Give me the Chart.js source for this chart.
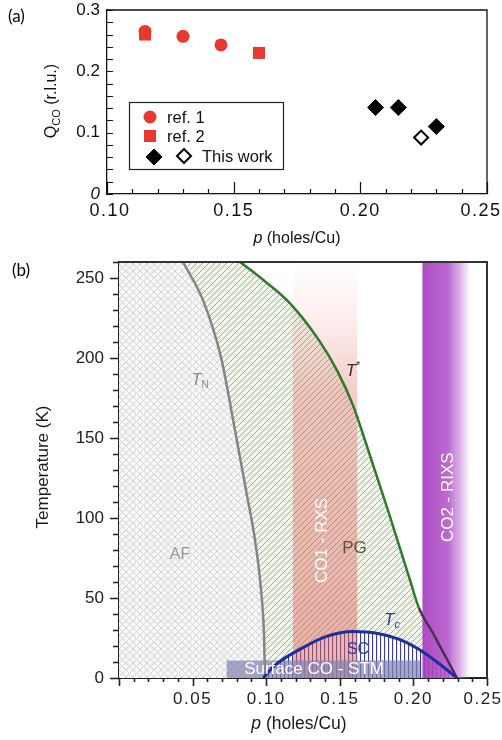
<!DOCTYPE html>
<html><head><meta charset="utf-8">
<script src="https://cdn.jsdelivr.net/npm/chart.js@4.4.1/dist/chart.umd.min.js"></script>
<style>
html,body{margin:0;padding:0;background:#fff;}
body{width:502px;height:740px;position:relative;overflow:hidden;}
canvas{position:absolute;left:0}
#ca{top:0}
#cb{top:250px}
.tag{position:absolute;font-family:Lato,'Open Sans',sans-serif;font-size:17px;color:#000;line-height:1}
</style></head><body>
<canvas id="ca" width="502" height="250"></canvas>
<canvas id="cb" width="502" height="490"></canvas>
<div class="tag" style="left:8px;top:7px">(a)</div>
<div class="tag" style="left:12px;top:261px">(b)</div>
<script>
// ---------- data: panel (a) ----------
const ref1P = [0.115, 0.130, 0.145];
const ref1Q = [0.265, 0.257, 0.243];
const ref2P = [0.115, 0.160];
const ref2Q = [0.260, 0.230];
const thisWorkP = [0.206, 0.215, 0.230];
const thisWorkQ = [0.141, 0.141, 0.110];
const thisWorkOpenP = [0.224];
const thisWorkOpenQ = [0.092];
const xTicksA = [0.10, 0.15, 0.20, 0.25];
const yTicksA = [0, 0.1, 0.2, 0.3];
const legendLabelsA = ['ref. 1', 'ref. 2', 'This work'];

// ---------- data: panel (b) ----------
const tnP = [0.0435, 0.0571, 0.0693, 0.0788, 0.0863, 0.0924, 0.0965, 0.0985, 0.0992];
const tnT = [260, 236, 200.4, 154.8, 117.4, 86.1, 54.9, 26.8, 0];
const tStarP = [0.0822, 0.0985, 0.1162, 0.1359, 0.1481, 0.1590, 0.1671, 0.1827, 0.1977, 0.2038, 0.2133, 0.2215, 0.2296];
const tStarT = [260, 248.4, 234.1, 211, 192.3, 170.4, 148.6, 104.9, 61.2, 43.7, 28, 14, 0];
const tcP = [0.098, 0.106, 0.125, 0.141, 0.159, 0.175, 0.191, 0.2045, 0.216, 0.227, 0.2296];
const tcT = [0, 8, 19, 26, 29, 28, 24, 17.5, 10, 2, 0];
const co1Range = [0.118, 0.162];
const co2Range = [0.206, 0.238];
const stmRange = [0.073, 0.2045];
const stmTop = 11;
const tMax = 260;
const xTicksB = [0.05, 0.10, 0.15, 0.20, 0.25];
const yTicksB = [0, 50, 100, 150, 200, 250];
const regionLabelsB = ['AF', 'PG', 'SC', 'CO1 - RXS', 'CO2 - RIXS', 'Surface CO - STM'];

// ---------- helpers ----------
const FONT = "'Liberation Sans', Arial, Helvetica, sans-serif";
const zip = (xs, ys) => xs.map((x, i) => ({x: x, y: ys[i]}));
const rectPts = (r, lo, hi) => [{x: r[0], y: lo}, {x: r[0], y: hi}, {x: r[1], y: hi}, {x: r[1], y: lo}];
const noPad = s => { s.paddingLeft = 0; s.paddingRight = 0; s.paddingTop = 0; s.paddingBottom = 0; };

class SpacedLinear extends Chart.LinearScale {
  _computeLabelItems(area) {
    const items = super._computeLabelItems(area);
    const f = this.options.firstLabelShift || 0, l = this.options.lastLabelShift || 0;
    if (items.length) {
      const a = items[0].options, b = items[items.length - 1].options;
      a.translation = [a.translation[0] + f, a.translation[1]];
      b.translation = [b.translation[0] + l, b.translation[1]];
    }
    return items;
  }
  drawLabels(area) {
    const ls = this.options.letterSpacingPx || 0;
    this.ctx.save();
    try { this.ctx.letterSpacing = ls + 'px'; } catch (e) {}
    super.drawLabels(area);
    this.ctx.restore();
  }
}
SpacedLinear.id = 'spacedLinear';
SpacedLinear.defaults = Chart.LinearScale.defaults;
Chart.register(SpacedLinear);

function drawRich(ctx, parts, x, y, align, angle) {
  ctx.save();
  ctx.translate(x, y);
  if (angle) ctx.rotate(angle);
  let w = 0;
  parts.forEach(p => { ctx.font = p.font; p.w = ctx.measureText(p.t).width; w += p.w; });
  let cx = align === 'center' ? -w / 2 : (align === 'right' ? -w : 0);
  ctx.textBaseline = 'middle';
  ctx.textAlign = 'left';
  parts.forEach(p => { ctx.font = p.font; ctx.fillStyle = p.color; ctx.fillText(p.t, cx, p.dy || 0); cx += p.w; });
  ctx.restore();
}

const tickPlugin = {
  id: 'customTicks',
  afterDraw(chart, args, o) {
    const ctx = chart.ctx, a = chart.chartArea, xs = chart.scales.x, ys = chart.scales.y;
    ctx.save();
    ctx.strokeStyle = o.color; ctx.lineWidth = o.width; ctx.beginPath();
    const nx = Math.round((xs.max - xs.min) / o.xMinor);
    for (let i = 0; i <= nx; i++) {
      const v = xs.min + i * o.xMinor;
      const major = Math.abs(v / o.xMajor - Math.round(v / o.xMajor)) < 1e-6;
      const len = major ? o.xMajorLen : o.xMinorLen;
      const px = Math.round(xs.getPixelForValue(v)) + 0.5;
      ctx.moveTo(px, a.bottom); ctx.lineTo(px, a.bottom + o.dir * len);
    }
    const ny = Math.round((ys.max - ys.min) / o.yMinor);
    for (let i = 0; i <= ny; i++) {
      const v = ys.min + i * o.yMinor;
      const major = Math.abs(v / o.yMajor - Math.round(v / o.yMajor)) < 1e-6;
      const len = major ? o.yMajorLen : o.yMinorLen;
      const py = Math.round(ys.getPixelForValue(v)) + 0.5;
      ctx.moveTo(a.left, py); ctx.lineTo(a.left - o.dir * len, py);
    }
    ctx.stroke();
    ctx.lineWidth = o.frameWidth; ctx.strokeStyle = o.frameColor;
    ctx.beginPath();
    ctx.moveTo(a.left, a.top); ctx.lineTo(a.right, a.top); ctx.lineTo(a.right, a.bottom);
    ctx.stroke();
    ctx.restore();
  }
};

// ---------- chart (a) ----------
const RED = '#e8392d';
const legendPluginA = {
  id: 'legendA',
  afterDraw(chart) {
    const ctx = chart.ctx, a = chart.chartArea;
    const bx = a.left + 22, by = a.top + 92, bw = 154, bh = 67;
    ctx.save();
    ctx.fillStyle = '#fff'; ctx.fillRect(bx, by, bw, bh);
    ctx.strokeStyle = '#222'; ctx.lineWidth = 1.2; ctx.strokeRect(bx + 0.5, by + 0.5, bw, bh);
    const ds = chart.data.datasets;
    const mark = (d, x, y) => {
      ctx.save();
      ctx.fillStyle = d.backgroundColor; ctx.strokeStyle = d.borderColor; ctx.lineWidth = d.borderWidth;
      Chart.helpers.drawPoint(ctx, {pointStyle: d.pointStyle, radius: d.pointRadius, borderWidth: d.borderWidth, rotation: 0}, x, y);
      ctx.restore();
    };
    mark(ds[0], bx + 21, by + 15);
    mark(ds[1], bx + 21, by + 34);
    mark(ds[2], bx + 25, by + 55);
    mark(ds[3], bx + 55, by + 54);
    ctx.fillStyle = '#111'; ctx.font = '16.5px ' + FONT; ctx.textBaseline = 'middle'; ctx.textAlign = 'left';
    ctx.fillText(legendLabelsA[0], bx + 38, by + 16);
    ctx.fillText(legendLabelsA[1], bx + 38, by + 35);
    ctx.fillText(legendLabelsA[2], bx + 73, by + 55);
    ctx.restore();
  }
};
const titlesPluginA = {
  id: 'titlesA',
  afterDraw(chart) {
    const ctx = chart.ctx, a = chart.chartArea;
    drawRich(ctx, [
      {t: 'Q', font: '16px ' + FONT, color: '#111'},
      {t: 'CO', font: '11px ' + FONT, color: '#111', dy: 5},
      {t: ' (r.l.u.)', font: '16px ' + FONT, color: '#111'}
    ], 52, (a.top + a.bottom) / 2 - 1, 'center', -Math.PI / 2);
    drawRich(ctx, [
      {t: 'p', font: 'italic 16px ' + FONT, color: '#111'},
      {t: ' (holes/Cu)', font: '16px ' + FONT, color: '#111'}
    ], (a.left + a.right) / 2, 239, 'center', 0);
  }
};

new Chart(document.getElementById('ca'), {
  type: 'scatter',
  data: {datasets: [
    {label: legendLabelsA[0], data: zip(ref1P, ref1Q), pointStyle: 'circle', pointRadius: 6.5, backgroundColor: RED, borderColor: RED, borderWidth: 0},
    {label: legendLabelsA[1], data: zip(ref2P, ref2Q), pointStyle: 'rect', pointRadius: 8.5, backgroundColor: RED, borderColor: RED, borderWidth: 0},
    {label: legendLabelsA[2], data: zip(thisWorkP, thisWorkQ), pointStyle: 'rectRot', pointRadius: 8, backgroundColor: '#000', borderColor: '#000', borderWidth: 1},
    {label: legendLabelsA[2] + ' (open)', data: zip(thisWorkOpenP, thisWorkOpenQ), pointStyle: 'rectRot', pointRadius: 7, backgroundColor: '#fff', borderColor: '#000', borderWidth: 2}
  ]},
  options: {
    responsive: false, animation: false, events: [],
    layout: {padding: {left: 0, right: 15, top: 10, bottom: 0}},
    plugins: {
      legend: {display: false}, tooltip: {enabled: false},
      customTicks: {dir: -1, xMinor: 0.01, xMajor: 0.05, yMinor: 0.02, yMajor: 0.1,
        xMajorLen: 12, xMinorLen: 5, yMajorLen: 6, yMinorLen: 6, color: '#111', width: 1.2,
        frameWidth: 1.3, frameColor: '#111'}
    },
    scales: {
      x: {type: 'spacedLinear', letterSpacingPx: 1.5, firstLabelShift: 3, lastLabelShift: -6, min: 0.10, max: 0.25,
        afterBuildTicks: s => { s.ticks = xTicksA.map(v => ({value: v})); },
        afterFit: s => { s.height = 56; noPad(s); },
        grid: {display: false, drawTicks: false},
        border: {display: true, color: '#111', width: 1.3},
        ticks: {padding: 6, color: '#111', maxRotation: 0, font: {family: FONT, size: 18},
          callback: v => Number(v).toFixed(2)}
      },
      y: {type: 'linear', min: 0, max: 0.3,
        afterBuildTicks: s => { s.ticks = yTicksA.map(v => ({value: v})); },
        afterFit: s => { s.width = 107; noPad(s); },
        grid: {display: false, drawTicks: false},
        border: {display: true, color: '#111', width: 1.3},
        ticks: {padding: 7, color: '#111',
          font: c => ({family: FONT, size: 17, style: (c.tick && c.tick.value === 0) ? 'italic' : 'normal'}),
          callback: v => v === 0 ? '0' : Number(v).toFixed(1)}
      }
    }
  },
  plugins: [tickPlugin, legendPluginA, titlesPluginA]
});

// ---------- chart (b) ----------
const cbEl = document.getElementById('cb');
const cbx = cbEl.getContext('2d');
function makePattern(w, h, bg, draw) {
  const c = document.createElement('canvas'); c.width = w; c.height = h;
  const g = c.getContext('2d');
  g.fillStyle = bg; g.fillRect(0, 0, w, h);
  draw(g);
  return cbx.createPattern(c, 'repeat');
}
const patAF = makePattern(7, 7, '#f7f7f7', g => {
  g.strokeStyle = '#d4d4d4'; g.lineWidth = 1; g.beginPath();
  g.moveTo(0, 0); g.lineTo(7, 7); g.moveTo(0, 7); g.lineTo(7, 0); g.stroke();
});
const patPG = makePattern(6, 6, '#f1f6ea', g => {
  g.strokeStyle = '#959f92'; g.lineWidth = 0.9; g.beginPath();
  g.moveTo(-1, 7); g.lineTo(7, -1);
  g.moveTo(-1, 1); g.lineTo(1, -1);
  g.moveTo(5, 7); g.lineTo(7, 5);
  g.stroke();
});
const patSC = makePattern(4, 4, '#fbfbff', g => {
  g.fillStyle = '#3d3f8f'; g.fillRect(0, 0, 1.1, 4);
});

const co1Fill = c => {
  const ch = c.chart, a = ch.chartArea;
  if (!a) return 'rgba(228,110,100,0.45)';
  const gr = ch.ctx.createLinearGradient(0, a.top, 0, a.bottom);
  gr.addColorStop(0, 'rgba(228,112,102,0.0)');
  gr.addColorStop(0.12, 'rgba(228,112,102,0.1)');
  gr.addColorStop(0.32, 'rgba(228,112,102,0.36)');
  gr.addColorStop(1, 'rgba(222,105,95,0.5)');
  return gr;
};
const co2Fill = c => {
  const ch = c.chart, a = ch.chartArea, xs = ch.scales.x;
  if (!a || !xs) return 'rgba(175,80,200,0.9)';
  const x0 = xs.getPixelForValue(co2Range[0]), x1 = xs.getPixelForValue(co2Range[1]);
  const gr = ch.ctx.createLinearGradient(x0, 0, x1, 0);
  gr.addColorStop(0, 'rgba(165,62,190,0.92)');
  gr.addColorStop(0.55, 'rgba(178,84,202,0.88)');
  gr.addColorStop(0.8, 'rgba(196,125,216,0.6)');
  gr.addColorStop(1, 'rgba(212,165,228,0.15)');
  return gr;
};
const NONE = 'rgba(0,0,0,0)';
const fillDs = (label, data, bg, order) => ({label, data, fill: 'origin', backgroundColor: bg, borderColor: NONE, borderWidth: 0, pointRadius: 0, order, cubicInterpolationMode: 'monotone'});
const bandDs = (label, data, bg, order) => ({label, data, fill: 'origin', backgroundColor: bg, borderColor: NONE, borderWidth: 0, pointRadius: 0, order});

const labelsPluginB = {
  id: 'labelsB',
  afterDatasetsDraw(chart) {
    const ctx = chart.ctx, xs = chart.scales.x, ys = chart.scales.y;
    const P = (p, T) => [xs.getPixelForValue(p), ys.getPixelForValue(T)];
    const put = (p, T, parts, angle) => { const q = P(p, T); drawRich(ctx, parts, q[0], q[1], 'center', angle || 0); };
    const BLUE = '#2b3aa8';
    put(0.055, 186, [{t: 'T', font: 'italic 17px ' + FONT, color: '#8c8c8c'}, {t: 'N', font: '10px ' + FONT, color: '#8c8c8c', dy: 5}]);
    put(0.159, 192, [{t: 'T', font: 'italic 17px ' + FONT, color: '#333'}, {t: '*', font: '11px ' + FONT, color: '#333', dy: -5}]);
    put(0.0414, 77, [{t: regionLabelsB[0], font: '16px ' + FONT, color: '#9a9a9a'}]);
    put(0.160, 81, [{t: regionLabelsB[1], font: '17px ' + FONT, color: '#56563c'}]);
    put(0.138, 86, [{t: regionLabelsB[3], font: '17px ' + FONT, color: '#fff'}], -Math.PI / 2);
    put(0.2235, 113, [{t: regionLabelsB[4], font: '17px ' + FONT, color: '#fff'}], -Math.PI / 2);
    put(0.1624, 17.5, [{t: regionLabelsB[2], font: '16px ' + FONT, color: BLUE}]);
    put(0.1855, 36, [{t: 'T', font: 'italic 17px ' + FONT, color: BLUE}, {t: 'c', font: 'italic 11px ' + FONT, color: BLUE, dy: 5}]);
    put(0.1325, 5.5, [{t: regionLabelsB[5], font: '17px ' + FONT, color: '#fff'}]);
  },
  afterDraw(chart) {
    const ctx = chart.ctx, a = chart.chartArea;
    drawRich(ctx, [{t: 'Temperature (K)', font: '17px ' + FONT, color: '#1a1a1a'}], 43, (a.top + a.bottom) / 2 - 3, 'center', -Math.PI / 2);
    drawRich(ctx, [
      {t: 'p', font: 'italic 17.5px ' + FONT, color: '#1a1a1a'},
      {t: ' (holes/Cu)', font: '17.5px ' + FONT, color: '#1a1a1a'}
    ], 299, 474, 'center', 0);
  }
};

new Chart(cbEl, {
  type: 'line',
  data: {datasets: [
    fillDs('PG', [{x: 0, y: tMax}].concat(zip(tStarP, tStarT)), patPG, 10),
    fillDs('AF', [{x: 0, y: tMax}].concat(zip(tnP, tnT)), patAF, 9),
    fillDs('SC', zip(tcP, tcT), patSC, 8),
    bandDs('CO1 - RXS', rectPts(co1Range, 0, tMax), co1Fill, 7),
    bandDs('CO2 - RIXS', rectPts(co2Range, 0, tMax), co2Fill, 6),
    bandDs('Surface CO - STM', rectPts(stmRange, 0, stmTop), 'rgba(132,132,178,0.72)', 5),
    {label: 'T_N', data: zip(tnP, tnT), borderColor: '#858585', borderWidth: 2.5, fill: false, pointRadius: 0, cubicInterpolationMode: 'monotone', order: 3},
    {label: 'T*', data: zip(tStarP, tStarT), borderColor: '#2f7a2f', borderWidth: 2.5, fill: false, pointRadius: 0, cubicInterpolationMode: 'monotone', order: 2,
      segment: {borderColor: c => c.p0.parsed.x >= co2Range[0] - 0.003 ? '#4b2f58' : '#2f7a2f'}},
    {label: 'Tc', data: zip(tcP, tcT), borderColor: '#1f2e9c', borderWidth: 3, fill: false, pointRadius: 0, cubicInterpolationMode: 'monotone', order: 1}
  ]},
  options: {
    responsive: false, animation: false, events: [],
    layout: {padding: {left: 0, right: 15, top: 12, bottom: 0}},
    plugins: {
      legend: {display: false}, tooltip: {enabled: false},
      customTicks: {dir: 1, xMinor: 0.01, xMajor: 0.05, yMinor: 10, yMajor: 50,
        xMajorLen: 8, xMinorLen: 4, yMajorLen: 9, yMinorLen: 6, color: '#222', width: 1.6,
        frameWidth: 2, frameColor: '#333'}
    },
    scales: {
      x: {type: 'spacedLinear', letterSpacingPx: 1.5, lastLabelShift: -4, min: 0, max: 0.25,
        afterBuildTicks: s => { s.ticks = xTicksB.map(v => ({value: v})); },
        afterFit: s => { s.height = 62; noPad(s); },
        grid: {display: false, drawTicks: false},
        border: {display: true, color: '#222', width: 2},
        ticks: {padding: 11, color: '#222', maxRotation: 0, font: {family: FONT, size: 17},
          callback: v => Number(v).toFixed(2)}
      },
      y: {type: 'linear', min: 0, max: tMax,
        afterBuildTicks: s => { s.ticks = yTicksB.map(v => ({value: v})); },
        afterFit: s => { s.width = 119; noPad(s); },
        grid: {display: false, drawTicks: false},
        border: {display: true, color: '#222', width: 2},
        ticks: {padding: 15, color: '#222', font: {family: FONT, size: 17},
          callback: v => String(v)}
      }
    }
  },
  plugins: [tickPlugin, labelsPluginB]
});
</script>
</body></html>
